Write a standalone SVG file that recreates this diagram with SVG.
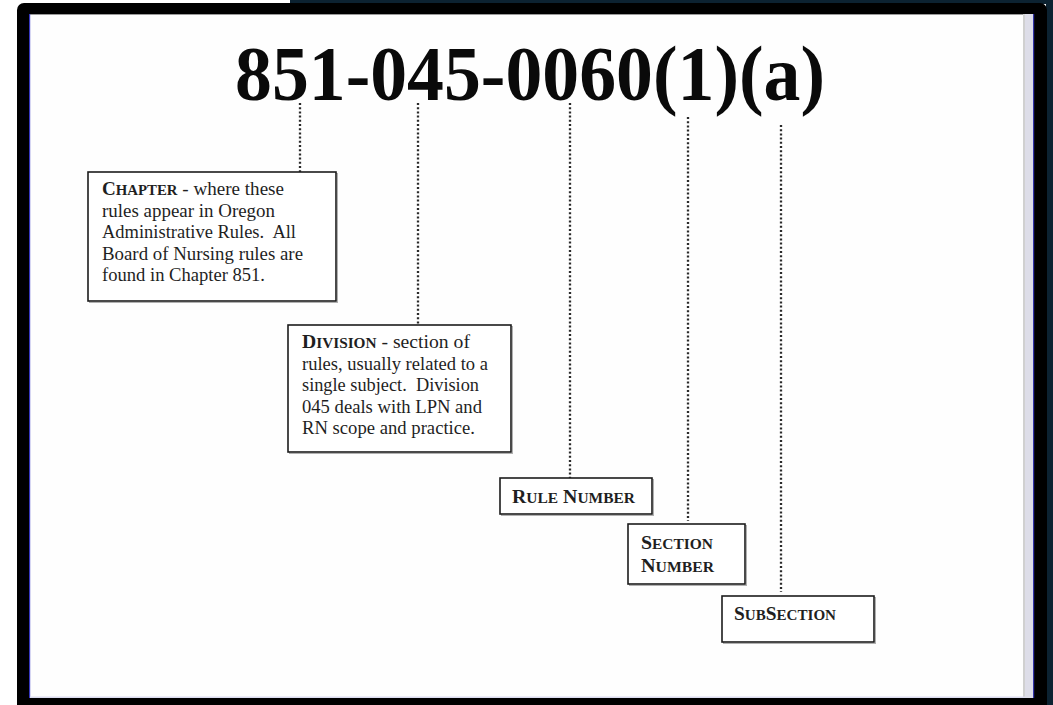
<svg xmlns="http://www.w3.org/2000/svg" width="1053" height="705" viewBox="0 0 1053 705">
<style>
.txt{font-family:"Liberation Serif","Times New Roman",serif;font-size:18px;fill:#1f1f1f}
.sc{font-weight:bold}
.sm{font-size:14px}
.box{fill:#fff;stroke:#1c1c1c;stroke-width:1.6}
.sh{fill:none;stroke:#b0b0b0;stroke-width:1}
.dot{stroke:#2a2a2a;stroke-width:2.3;stroke-dasharray:2 2.2;fill:none}
.title{font-family:"Liberation Serif","Times New Roman",serif;font-weight:bold;font-size:78px;fill:#0a0a0a}
</style>
<g id="frame">
<rect x="0" y="0" width="1053" height="705" fill="#ffffff"/>
<rect x="290" y="0" width="763" height="4" fill="#0c2231"/>
<rect x="1046" y="0" width="7" height="705" fill="#0c2231"/>
<rect x="17" y="3" width="1030" height="712" rx="7" fill="#000"/>
<rect x="30" y="14" width="995" height="684" fill="#fefefe"/>
<line x1="30" y1="14.5" x2="1025" y2="14.5" stroke="#9a9a9a" stroke-width="1"/>
<rect x="1025" y="14" width="8" height="684" fill="#dddde8"/>
<rect x="1023" y="14" width="2" height="684" fill="#d0d0d0"/>
<rect x="1033" y="14" width="1.2" height="684" fill="#3333a8"/>
<rect x="29" y="14" width="1.2" height="684" fill="#3838c0"/>
<rect x="30" y="696.5" width="995" height="1.5" fill="#dcdcf0"/>
</g>
<g id="title">
<text class="title" x="235" y="100" textLength="590" lengthAdjust="spacingAndGlyphs">851-045-0060(1)(a)</text>
</g>
<g id="connectors">
<line class="dot" x1="300" y1="103" x2="300" y2="172"/>
<line class="dot" x1="418" y1="103" x2="418" y2="325"/>
<line class="dot" x1="570" y1="103" x2="570" y2="478"/>
<line class="dot" x1="688" y1="117" x2="688" y2="521"/>
<line class="dot" x1="781" y1="125" x2="781" y2="592"/>
</g>
<g id="chapter">
<rect class="sh" x="89.5" y="173.5" width="248" height="129"/>
<rect class="box" x="88" y="172" width="248" height="129"/>
<text class="txt" x="102" y="195" textLength="182" lengthAdjust="spacingAndGlyphs"><tspan class="sc">C</tspan><tspan class="sc sm">HAPTER</tspan> - where these</text>
<text class="txt" x="102" y="216.5" textLength="173" lengthAdjust="spacingAndGlyphs">rules appear in Oregon</text>
<text class="txt" x="102" y="238" textLength="194" lengthAdjust="spacingAndGlyphs" xml:space="preserve">Administrative Rules.  All</text>
<text class="txt" x="102" y="259.5" textLength="201" lengthAdjust="spacingAndGlyphs">Board of Nursing rules are</text>
<text class="txt" x="102" y="281" textLength="163" lengthAdjust="spacingAndGlyphs">found in Chapter 851.</text>
</g>
<g id="division">
<rect class="sh" x="289.5" y="326.5" width="223" height="127"/>
<rect class="box" x="288" y="325" width="223" height="127"/>
<text class="txt" x="302" y="348" textLength="168" lengthAdjust="spacingAndGlyphs"><tspan class="sc">D</tspan><tspan class="sc sm">IVISION</tspan> - section of</text>
<text class="txt" x="302" y="369.5" textLength="186" lengthAdjust="spacingAndGlyphs">rules, usually related to a</text>
<text class="txt" x="302" y="391" textLength="177" lengthAdjust="spacingAndGlyphs" xml:space="preserve">single subject.  Division</text>
<text class="txt" x="302" y="412.5" textLength="180" lengthAdjust="spacingAndGlyphs">045 deals with LPN and</text>
<text class="txt" x="302" y="434" textLength="173" lengthAdjust="spacingAndGlyphs">RN scope and practice.</text>
</g>
<g id="rule-number">
<rect class="sh" x="501.5" y="479.5" width="152" height="36"/>
<rect class="box" x="500" y="478" width="152" height="36"/>
<text class="txt" x="512" y="503" textLength="123" lengthAdjust="spacingAndGlyphs"><tspan class="sc">R</tspan><tspan class="sc sm">ULE</tspan><tspan class="sc"> N</tspan><tspan class="sc sm">UMBER</tspan></text>
</g>
<g id="section-number">
<rect class="sh" x="629.5" y="525.5" width="117" height="60"/>
<rect class="box" x="628" y="524" width="117" height="60"/>
<text class="txt" x="641" y="549" textLength="72" lengthAdjust="spacingAndGlyphs"><tspan class="sc">S</tspan><tspan class="sc sm">ECTION</tspan></text>
<text class="txt" x="641" y="572" textLength="73" lengthAdjust="spacingAndGlyphs"><tspan class="sc">N</tspan><tspan class="sc sm">UMBER</tspan></text>
</g>
<g id="subsection">
<rect class="sh" x="723.5" y="597.5" width="152" height="46"/>
<rect class="box" x="722" y="596" width="152" height="46"/>
<text class="txt" x="734" y="620" textLength="102" lengthAdjust="spacingAndGlyphs"><tspan class="sc">S</tspan><tspan class="sc sm">UB</tspan><tspan class="sc">S</tspan><tspan class="sc sm">ECTION</tspan></text>
</g>
</svg>
